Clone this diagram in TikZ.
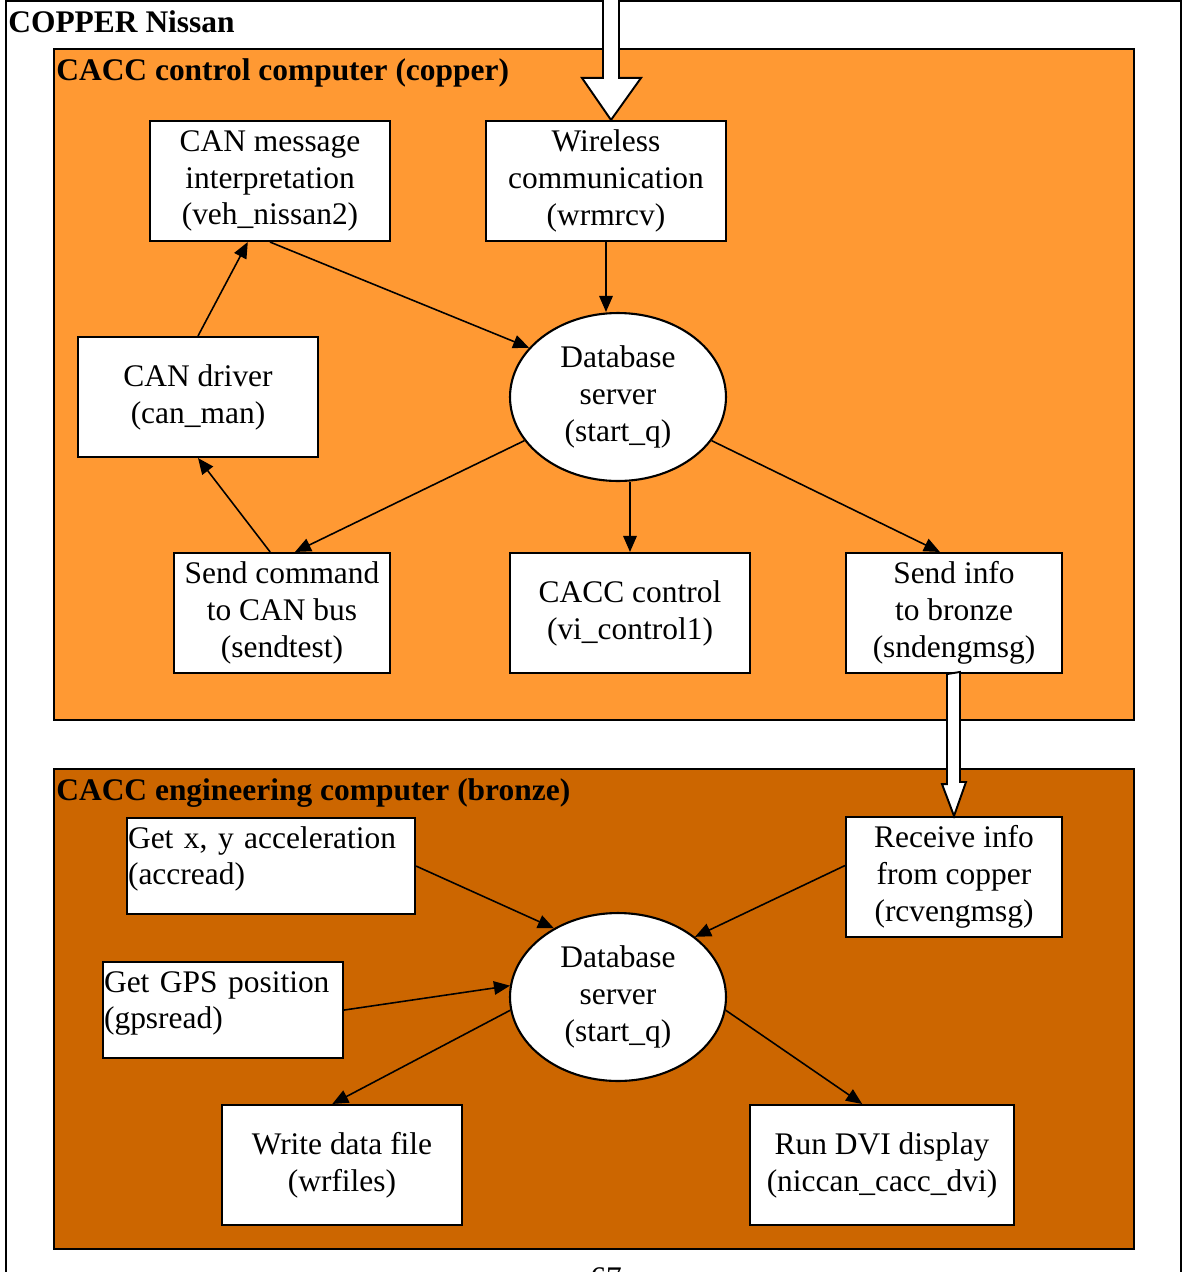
\documentclass[tikz,border=0pt]{standalone}
\usepackage{fontspec}
\setmainfont{Liberation Serif}
\usetikzlibrary{shapes.geometric,arrows.meta}
\definecolor{copper}{HTML}{FF9933}
\definecolor{bronze}{HTML}{CC6600}
\begin{document}
\begin{tikzpicture}[x=.02cm,y=-.02cm,>={Triangle[length=.32cm,width=.27cm]},font=\fontsize{17.9}{21}\selectfont,
	box/.style={draw,fill=white,line width=1.2pt,align=center,inner sep=0pt,minimum width=#1,minimum height=2.4cm},box/.default=4.8cm,
	srv/.style={draw,fill=white,line width=1.2pt,ellipse,align=center,inner sep=0pt,minimum width=4.32cm,minimum height=3.36cm},
	lbox/.style={draw,fill=white,line width=1.2pt,align=left,anchor=north west,inner xsep=.02cm,inner ysep=0pt,text width=#1,text height=.6cm,text depth=1.32cm},
	area/.style={draw,line width=1.2pt},
	hd/.style={anchor=base west,inner sep=0pt,font=\fontsize{17.9}{21}\selectfont\bfseries},
	wide/.style={draw,fill=white,line width=1.1pt},
	conn/.style={->,line width=.9pt}]
	\useasboundingbox (0,0) rectangle (1182,1272);
	\draw[area] (6,1) rectangle (1181,1300);
	\draw[area,fill=copper] (54,49) rectangle (1134,720);
	\draw[area,fill=bronze] (54,769) rectangle (1134,1249);
	\node[hd] (nissan) at (8,32) {COPPER Nissan};
	\node[hd] (copper) at (56,80) {CACC control computer (copper)};
	\node[hd] (bronze) at (56,800) {CACC engineering computer (bronze)};
	\node[box] (canmsg) at (270,181) {CAN message\\interpretation\\(veh\_nissan2)};
	\node[box] (wrmrcv) at (606,181) {Wireless\\communication\\(wrmrcv)};
	\node[srv] (db) at (618,397) {Database\\server\\(start\_q)};
	\node[box] (canman) at (198,397) {CAN driver\\(can\_man)};
	\node[box=4.32cm] (sendtest) at (282,613) {Send command\\to CAN bus\\(sendtest)};
	\node[box] (vicontrol) at (630,613) {CACC control\\(vi\_control1)};
	\node[box=4.32cm] (sndeng) at (954,613) {Send info\\to bronze\\(sndengmsg)};
	\node[lbox=5.72cm] (accread) at (126,817) {Get x, y acceleration\\(accread)};
	\node[box=4.32cm] (rcveng) at (954,877) {Receive info\\from copper\\(rcvengmsg)};
	\node[srv] (db2) at (618,997) {Database\\server\\(start\_q)};
	\node[lbox=4.76cm] (gpsread) at (102,961) {Get GPS position\\(gpsread)};
	\node[box] (wrfiles) at (342,1165) {Write data file\\(wrfiles)};
	\node[box=5.28cm] (dvi) at (882,1165) {Run DVI display\\(niccan\_cacc\_dvi)};
	\node[anchor=base] (page) at (606,1288) {67};
	\draw[conn] (canmsg.south) -- (db.151);
	\draw[conn] (wrmrcv.south) -- (wrmrcv.south |- db.north);
	\draw[conn] (canman.north) -- (canmsg.250);
	\draw[conn] (sendtest.101) -- (canman.south);
	\draw[conn] (db.205) -- (sendtest.78);
	\draw[conn] (vicontrol.north |- db.south) -- (vicontrol.north);
	\draw[conn] (db.335) -- (sndeng.103);
	\draw[conn] (accread.east) -- (db2.133);
	\draw[conn] (rcveng.174) -- (db2.38);
	\draw[conn] (gpsread.east) -- (db2.174);
	\draw[conn] (db2.187) -- (wrfiles.99);
	\draw[conn] (db2.353) -- (dvi.108);
	\filldraw[wide] ([xshift=.1cm]wrmrcv.north) -- ++(-29,-42) -- ++(21,0) -- ++(0,-90) -- ++(16,0) -- ++(0,90) -- ++(22,0) -- cycle;
	\filldraw[wide] ([xshift=-.14cm]sndeng.south) -- ++(0,110) -- ++(-5,0) -- (rcveng.north) -- ++(12,-34) -- ++(-6,0) -- ++(0,-110) -- cycle;
\end{tikzpicture}
\end{document}
